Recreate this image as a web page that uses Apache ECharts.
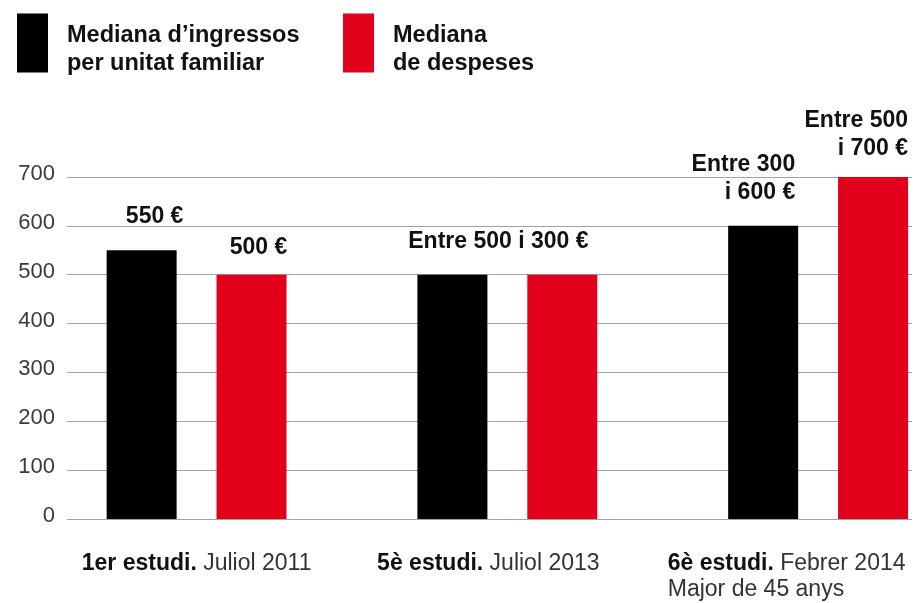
<!DOCTYPE html>
<html>
<head>
<meta charset="utf-8">
<script src="https://cdn.jsdelivr.net/npm/echarts@6/dist/echarts.min.js"></script>
<style>
  html, body { margin: 0; padding: 0; background: #ffffff; }
  #chart { width: 916px; height: 603px; }
</style>
</head>
<body>
<div id="chart"></div>
<script>
// Study waves shown on the horizontal axis
const studyNames = ['1er estudi.', '5è estudi.', '6è estudi.'];
const studyDates = ['Juliol 2011', 'Juliol 2013', 'Febrer 2014'];
const studyNotes = ['', '', 'Major de 45 anys'];

// Monthly medians (€)
const ingressos = [550, 500, 600];
const despeses = [500, 500, 700];

// Value labels printed above the bars
const ingressosLabels = ['550 €', 'Entre 500 i 300 €', 'Entre 300\ni 600 €'];
const despesesLabels = ['500 €', '', 'Entre 500\ni 700 €'];

// Legend entries (two lines each)
const legendLines = [
  ['Mediana d’ingressos', 'per unitat familiar'],
  ['Mediana', 'de despeses']
];
const seriesNames = legendLines.map(l => l.join(' '));

// Value axis ticks
const yMin = 0;
const yMax = 700;
const yStep = 100;

const FONT = '"Liberation Sans", Arial, Helvetica, sans-serif';
const BLACK = '#000000';
const RED = '#e3001b';

// Label placement tweaks, per bar
const ingressosLabelLayout = [
  { offset: [13, 0], distance: 20, align: 'center' },
  { offset: [46, 0], distance: 19, align: 'center' },
  { offset: [32, 0], distance: 19, align: 'right' }
];
const despesesLabelLayout = [
  { offset: [7, 0], distance: 13, align: 'center' },
  { offset: [0, 0], distance: 13, align: 'center' },
  { offset: [35, 0], distance: 14, align: 'right' }
];
const categoryPadding = [[0, 0, 0, 0], [0, 38, 0, 0], [0, 63, 0, 0]];

const barLabelBase = {
  show: true,
  position: 'top',
  color: '#111111',
  fontFamily: FONT,
  fontSize: 23,
  fontWeight: 'bold',
  lineHeight: 28
};

function buildBarData(values, labels, layout) {
  return values.map((v, i) => ({
    value: v,
    label: Object.assign({}, barLabelBase, {
      show: labels[i] !== '',
      formatter: labels[i],
      offset: layout[i].offset,
      distance: layout[i].distance,
      align: layout[i].align
    })
  }));
}

const categoryData = studyNames.map((name, i) => ({
  value: name,
  textStyle: { padding: categoryPadding[i] }
}));

const chart = echarts.init(document.getElementById('chart'), null, { renderer: 'canvas' });

const legendText = {
  fontFamily: FONT,
  fontSize: 23.5,
  fontWeight: 'bold',
  color: '#111111'
};

const legendCommon = {
  top: 13.5,
  padding: 0,
  orient: 'horizontal',
  icon: 'rect',
  itemWidth: 31,
  itemHeight: 59,
  selectedMode: false,
  formatter: function (name) {
    const lines = legendLines[seriesNames.indexOf(name)];
    return '{a|' + lines[0] + '}\n{b|' + lines[1] + '}';
  },
  textStyle: Object.assign({}, legendText, {
    padding: [0, 0, 0, 14],
    rich: {
      a: Object.assign({}, legendText, { lineHeight: 40.5, height: 27.5, verticalAlign: 'bottom' }),
      b: Object.assign({}, legendText, { lineHeight: 27.5 })
    }
  })
};

chart.setOption({
  backgroundColor: '#ffffff',
  animation: false,
  legend: [
    Object.assign({}, legendCommon, { left: 17, data: [seriesNames[0]] }),
    Object.assign({}, legendCommon, { left: 343, data: [seriesNames[1]] })
  ],
  grid: [
    // gridlines and value labels
    { left: 67, right: 4, top: 177, bottom: 84, outerBoundsMode: 'none', containLabel: false },
    // bars and study labels
    { left: 41.2, right: -57.5, top: 177, bottom: 84, outerBoundsMode: 'none', containLabel: false }
  ],
  xAxis: [
    {
      gridIndex: 0,
      type: 'category',
      data: studyNames,
      show: false
    },
    {
      gridIndex: 1,
      type: 'category',
      data: categoryData,
      axisLine: { show: false },
      axisTick: { show: false },
      splitLine: { show: false },
      axisLabel: {
        interval: 0,
        margin: 32,
        fontFamily: FONT,
        fontSize: 23,
        lineHeight: 26,
        formatter: function (value, idx) {
          let txt = '{b|' + value + '} {r|' + studyDates[idx] + '}';
          if (studyNotes[idx]) txt += '\n{r|' + studyNotes[idx] + '}';
          return txt;
        },
        rich: {
          b: { fontFamily: FONT, fontSize: 23, fontWeight: 'bold', color: '#111111', align: 'left', lineHeight: 26 },
          r: { fontFamily: FONT, fontSize: 23, fontWeight: 'normal', color: '#333333', align: 'left', lineHeight: 26 }
        }
      }
    }
  ],
  yAxis: [
    {
      gridIndex: 0,
      type: 'value',
      min: yMin,
      max: yMax,
      interval: yStep,
      axisLine: { show: false },
      axisTick: { show: false },
      splitLine: { show: true, lineStyle: { color: '#a3a3a3', width: 1 } },
      axisLabel: {
        margin: 12,
        color: '#3a3a3a',
        fontFamily: FONT,
        fontSize: 22,
        verticalAlign: 'bottom',
        lineHeight: 6
      }
    },
    {
      gridIndex: 1,
      type: 'value',
      min: yMin,
      max: yMax,
      interval: yStep,
      show: false,
      splitLine: { show: false }
    }
  ],
  series: [
    {
      name: seriesNames[0],
      type: 'bar',
      xAxisIndex: 1,
      yAxisIndex: 1,
      barWidth: 70,
      barGap: '57%',
      itemStyle: { color: BLACK },
      data: buildBarData(ingressos, ingressosLabels, ingressosLabelLayout)
    },
    {
      name: seriesNames[1],
      type: 'bar',
      xAxisIndex: 1,
      yAxisIndex: 1,
      barWidth: 70,
      barGap: '57%',
      itemStyle: { color: RED },
      data: buildBarData(despeses, despesesLabels, despesesLabelLayout)
    }
  ]
});
</script>
</body>
</html>
